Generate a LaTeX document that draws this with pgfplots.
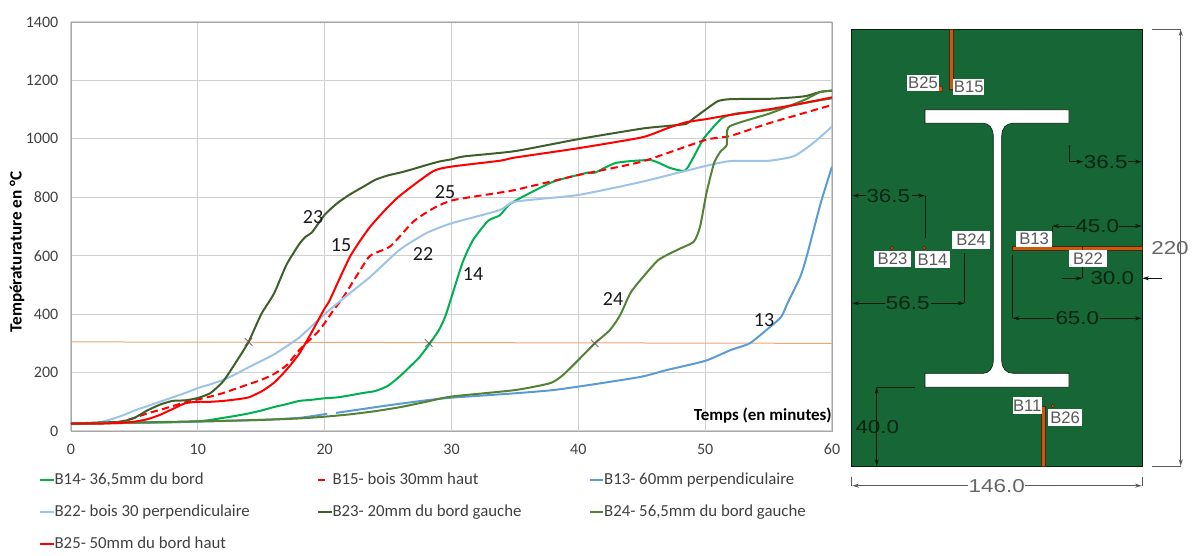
\documentclass[border=0pt]{standalone}
\usepackage{fontspec}
\usepackage{graphicx}
\usepackage{pgfplots}
\pgfplotsset{compat=1.18}
\usetikzlibrary{arrows.meta}
\setmainfont{Carlito}
\newfontfamily\cad{Liberation Sans}
\definecolor{cbfourteen}{HTML}{00B050}
\definecolor{cbthirteen}{HTML}{5B9BD5}
\definecolor{cbtwentytwo}{HTML}{9DC3E6}
\definecolor{cbtwentythree}{HTML}{3D5F2A}
\definecolor{cbtwentyfour}{HTML}{548235}
\definecolor{gridc}{HTML}{D0D0D0}
\definecolor{steelg}{HTML}{166636}
\definecolor{probe}{HTML}{C55A11}
\definecolor{threshold}{HTML}{EDA57B}
\pgfplotsset{lg/.style={legend image code/.code={\draw[##1] (0pt,0pt) -- (10pt,0pt);}},
  lgd/.style={legend image code/.code={\draw[##1,dash pattern=on 5pt off 8pt] (0pt,0pt) -- (10pt,0pt);}},
  curve/.style={line width=1.5pt,smooth,tension=0.35,line join=round,mark=none}}
\begin{document}
\begin{tikzpicture}
\path (0pt,0pt) rectangle (894pt,411.75pt);
\begin{axis}[
  at={(53.25pt,88.5pt)}, anchor=south west,
  scale only axis, width=570.75pt, height=306.75pt,
  xmin=0, xmax=60, ymin=0, ymax=1400,
  xtick={0,10,...,60}, ytick={0,200,...,1400},
  grid=major, major grid style={gridc,line width=0.9pt},
  axis line style={gridc!80!black,line width=0.7pt},
  axis on top=false,
  tick style={draw=none},
  /pgf/number format/assume math mode=true,
  /pgf/number format/1000 sep={},
  tick label style={font=\fontsize{12}{14}\selectfont,text=black!75},
  xticklabel style={yshift=-6pt},
  yticklabel style={xshift=-6pt},
  ylabel={\textbf{Températurature en °C}},
  every axis y label/.style={at={(axis description cs:-0.071,0.4377)},anchor=center,rotate=90,font=\fontsize{12.9}{15}\selectfont,text=black},
  legend cell align=left,
  legend columns=3,
  legend style={at={(-27pt,-27.5pt)},anchor=north west,draw=none,fill=none,
    font=\fontsize{12.6}{14}\selectfont,text=black!75,
    row sep=9.6pt,
    nodes={inner xsep=0pt,inner ysep=2pt},
    /tikz/every odd column/.append style={column sep=0pt},
    /tikz/every even column/.append style={column sep=50.5pt},
    /tikz/column 4/.style={column sep=61.75pt}},
  clip=true,
  lg,
]
\addplot[forget plot,threshold,line width=0.75pt,sharp plot,mark=none] coordinates {(0,305) (60,300)};

\addplot[cbfourteen,curve] coordinates {
(0,25)(5,28)(8,30)(10,33)(11,38)(12,45)(13,52)(14,60)(15,70)(16,82)(17,92)(18,103)(19,107)(20,112)(21,115)(22,122)(23,130)(24,137)(25,155)(26,190)(27,232)(27.5,254)(28.3,300)(29,345)(29.5,391)(30.1,472)(30.9,580)(31.7,654)(32.9,720)(33.8,738)(34.5,773)(35.4,797)(38,853)(40.7,884)(41.3,884)(43,918)(45.7,927)(47.2,901)(48.4,891)(49.1,939)(49.9,1002)(51.3,1070)(52.5,1087)(55.1,1099)(57.5,1120)(60,1139)};
\addlegendentry{B14- 36,5mm du bord}

\addplot[red,curve,dash pattern=on 5.5pt off 3.2pt,lgd] coordinates {
(0,25)(3,28)(4,33)(5,45)(6,60)(7,72)(8,85)(9,98)(10,108)(11,118)(12,130)(13,145)(14,160)(15,175)(16,195)(17,225)(18,277)(19.6,346)(20.7,414)(21.5,460)(23.3,585)(23.8,606)(25.2,633)(27,717)(28.6,763)(30.1,790)(33.8,816)(35,825)(40,876)(45,922)(50,996)(52,1010)(55,1053)(60,1116)};
\addlegendentry{B15- bois 30mm haut}

\addplot[cbthirteen,curve,unbounded coords=jump] coordinates {
(0,25)(5,28)(10,32)(15,38)(18,45)(20.2,59)(20.25,nan)(20.9,62)(25.2,89)(28,105)(30,114)(35,129)(38,140)(40,152)(42,165)(45,186)(47,209)(50,240)(52,277)(53.5,300)(55,352)(56,391)(56.5,438)(57.5,528)(58,597)(59.1,779)(60,905)};
\addlegendentry{B13- 60mm perpendiculaire}

\addplot[cbtwentytwo,curve] coordinates {
(0,25)(2,28)(3,38)(4,52)(5,70)(6,85)(7,100)(8,115)(9,130)(10,147)(11,160)(12,175)(13,195)(14,218)(15,240)(16,262)(17,290)(18,320)(19,360)(20,400)(21.5,455)(23.6,528)(25.9,620)(28,677)(30,711)(33.8,756)(35,785)(40,808)(45,853)(50,907)(52,924)(55,925)(57,941)(58.5,985)(60,1042)};
\addlegendentry{B22- bois 30 perpendiculaire}

\addplot[cbtwentythree,curve] coordinates {
(0,25)(1,27)(2,29)(3,30)(4,32)(5,45)(6,70)(7,90)(8,103)(9,105)(10,113)(11,130)(12,170)(13,235)(14,305)(15,400)(16,470)(17,570)(18,640)(18.5,665)(19,680)(20,740)(21,780)(22,810)(23,835)(24,860)(25,875)(26,885)(27,897)(28,910)(29,922)(30,930)(31,940)(35,958)(40,999)(45,1035)(47,1044)(48.5,1051)(49,1067)(50,1099)(51,1129)(52,1136)(55,1137)(57,1142)(58,1147)(59,1160)(60,1165)};
\addlegendentry{B23- 20mm du bord gauche}

\addplot[cbtwentyfour,curve] coordinates {
(0,25)(10,33)(15,38)(18,43)(20,49)(22,57)(24,68)(26,82)(28,100)(30,118)(35,140)(37.8,164)(38.8,192)(40,243)(41.3,300)(42.5,346)(43.3,397)(44.1,472)(44.9,517)(46.3,585)(47.8,620)(49.1,648)(49.6,700)(50.1,814)(50.7,917)(51.2,956)(51.7,979)(51.9,1042)(55.1,1087)(57.8,1133)(59.1,1161)(60,1165)};
\addlegendentry{B24- 56,5mm du bord gauche}

\addplot[red,curve] coordinates {
(0,25)(2,25)(4,28)(5,32)(6,40)(7,55)(8,75)(9,95)(10,100)(11,100)(12,103)(13,108)(14,115)(15,135)(16,165)(17,210)(18,265)(19,340)(20,420)(20.4,448)(22,597)(23.6,700)(25.7,797)(28.5,888)(30,905)(33.8,925)(35,936)(40,968)(45,1005)(47,1036)(48.5,1057)(50,1067)(52,1082)(55,1101)(57,1116)(60,1142)};
\addlegendentry{B25- 50mm du bord haut}

\addplot[forget plot,only marks,mark=x,mark size=4pt,mark options={draw=black!65,line width=0.5pt}] coordinates {(14,305)(28.2,301)(41.3,300)};
\end{axis}

% labels inside the chart, in reference pixels
\begin{scope}[x=0.75pt,y=-0.75pt,shift={(0pt,411.75pt)}]
\foreach \t/\x/\y in {23/313/217,15/341/245,25/445/192,22/423/254,14/473/274,24/613/299,13/764/320}
  \node[font=\fontsize{15}{17}\selectfont,text=black!90,inner sep=0pt] at (\x,\y) {\t};
\node[font=\bfseries\fontsize{12.7}{14}\selectfont,anchor=east,inner sep=0pt] at (832,416) {Temps (en minutes)};

% section drawing
\fill[steelg] (851.7,29.3) rectangle (1142.3,466);
\draw[black!70!steelg,line width=0.6pt] (851.7,29.3) rectangle (1142.3,466);
\fill[white,draw=black!70!steelg,line width=0.5pt]
  (925,109.7) -- (1069,109.7) -- (1069,123.3) -- (1013,123.3)
  .. controls (1006,123.3) and (1001.7,128) .. (1001.7,136.7)
  -- (1001.7,360) .. controls (1001.7,368) and (1006,373.3) .. (1013,373.3)
  -- (1069,373.3) -- (1069,387.3) -- (925,387.3) -- (925,373.3) -- (983.3,373.3)
  .. controls (989,373.3) and (993.3,368) .. (993.3,360)
  -- (993.3,136.7) .. controls (993.3,128) and (989,123.3) .. (983.3,123.3)
  -- (925,123.3) -- cycle;
\tikzset{bar/.style={fill=probe,draw=black!60!probe,line width=0.4pt}}
\path[bar] (949.3,29.3) rectangle (953.3,89);
\path[bar] (1012.7,246.3) rectangle (1142.3,250);
\draw[black!60!probe,line width=0.4pt] (1082,246.3) -- (1082,250);
\path[bar] (1041.3,406.7) rectangle (1045,466);
\path[bar] (940,89) circle (2.2pt);
\foreach \x/\y in {891.7/248,924.3/248,964.3/248,1052.7/406}
  \path[bar] (\x,\y) circle (1.3pt);

% dimension lines
\tikzset{dim/.style={draw=black!75!steelg,line width=0.6pt},
  ar/.style={-{Stealth[length=5pt,width=3pt]}}}
\draw[dim] (1069.3,145) -- (1069.3,161.7);
\draw[dim,ar] (1069.3,161.7) -- (1083,161.7);
\draw[dim,ar] (1128,161.7) -- (1141.7,161.7);
\draw[dim,ar] (866,195.7) -- (852.3,195.7);
\draw[dim] (925,195.7) -- (925,238.3);
\draw[dim,ar] (911.7,195.7) -- (925,195.7);
\draw[dim] (1052.3,231.7) -- (1052.3,226);
\draw[dim,ar] (1075,226) -- (1052.3,226);
\draw[dim,ar] (1119.3,226) -- (1141.7,226);
\draw[dim,ar] (1062.3,278.3) -- (1082.3,278.3);
\draw[dim] (1082.3,266.7) -- (1082.3,278.3);
\draw[dim,ar] (1161.7,278.3) -- (1142.3,278.3);
\draw[dim,ar] (885,303.3) -- (852.3,303.3);
\draw[dim,ar] (930.7,303.3) -- (964.3,303.3);
\draw[dim] (964.3,253) -- (964.3,303.3);
\draw[dim,ar] (1054.3,318.3) -- (1012.7,318.3);
\draw[dim] (1012.7,255) -- (1012.7,318.3);
\draw[dim,ar] (1100,318.3) -- (1141.7,318.3);
\draw[dim,ar] (876.7,426) -- (876.7,387);
\draw[dim,ar] (876.7,426) -- (876.7,466);
\draw[dim] (876.7,387) -- (915,387);
\tikzset{odim/.style={draw=black!65,line width=0.7pt}}
\draw[odim,ar] (968.3,485.7) -- (852.3,485.7);
\draw[odim,ar] (1025,485.7) -- (1141.7,485.7);
\draw[odim] (851.7,476.7) -- (851.7,485.7);
\draw[odim] (1142.3,476.7) -- (1142.3,485.7);
\draw[odim] (1151.7,29.3) -- (1180.7,29.3);
\draw[odim] (1151.7,466) -- (1180.7,466);
\draw[odim,ar] (1180.7,240) -- (1180.7,29.3);
\draw[odim,ar] (1180.7,240) -- (1180.7,466);

% dimension texts
\foreach \t/\x/\y in {36.5/1105.7/161.7,36.5/888.3/195.7,45.0/1097.3/226,30.0/1112.3/278.3,56.5/907.7/303.3,65.0/1077.3/318.5,40.0/877.3/426.7}
  \node[inner sep=0pt,text=black!65!steelg,font=\cad\fontsize{14}{16}\selectfont] at (\x,\y) {\scalebox{1.2}[1]{\t}};
\foreach \t/\x/\y in {146.0/996.7/485.7,220/1170/248.3}
  \node[inner sep=0pt,text=black!60,font=\cad\fontsize{14}{16}\selectfont] at (\x,\y) {\scalebox{1.2}[1]{\t}};

% sensor labels
\foreach \t/\xa/\ya/\xb/\yb in {B25/906.7/75/939.3/90.7,B15/953.3/79/984.3/94.7,B23/874/250.7/911/267.3,B14/915/251/950/267.7,B24/952.3/231/990/249,B13/1016/231/1052.3/247.3,B22/1069.3/250/1106.7/266.7,B11/1012.7/396.7/1041.7/414,B26/1048/408.7/1082.3/426}{
  \fill[white] (\xa,\ya) rectangle (\xb,\yb);
  \node[inner sep=0pt,text=black!65,font=\cad\fontsize{12.5}{14}\selectfont] at ({(\xa+\xb)/2},{(\ya+\yb)/2}) {\t};
}
\end{scope}
\end{tikzpicture}
\end{document}
